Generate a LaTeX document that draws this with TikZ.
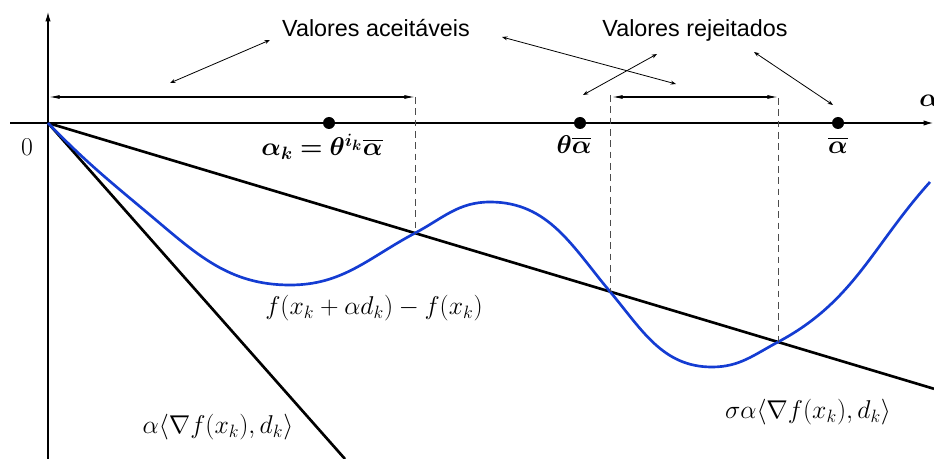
\documentclass[tikz,border=0pt]{standalone}
\usepackage{amsmath,bm}
\usepackage[no-math]{fontspec}
\newfontfamily\labelfont{Liberation Sans}
\usetikzlibrary{arrows.meta}
\definecolor{curveblue}{RGB}{20,60,210}
\begin{document}
\begin{tikzpicture}[x=0.75pt,y=-0.75pt,
  axis/.style={line width=0.8pt,-{Latex[length=7pt,width=4pt]}},
  mainline/.style={line width=2pt},
  fcurve/.style={line width=2pt,curveblue},
  guide/.style={line width=0.7pt,dash pattern=on 5pt off 3.5pt,black!70},
  span/.style={line width=0.8pt,{Latex[length=8pt,width=3pt]}-{Latex[length=8pt,width=3pt]}},
  pointer/.style={line width=0.6pt,{Stealth[length=4pt,width=3pt]}-{Stealth[length=4pt,width=3pt]}},
  dot/.style={circle,fill=black,inner sep=0pt,minimum size=9pt},
  word/.style={font=\labelfont\fontsize{17.5}{20}\selectfont,inner sep=0pt},
  mathlbl/.style={font=\fontsize{17.28}{20}\selectfont,inner sep=0pt,scale=1.117,transform shape}]
\useasboundingbox (0,0) rectangle (934,459);
% axes
\coordinate (O) at (48,123);
\coordinate (yb) at (48,459);
\coordinate (yt) at (48,12);
\coordinate (xl) at (10,123);
\coordinate (xr) at (933,123);
\draw[axis] (yb) -- (yt);
\draw[axis] (xl) -- (xr);
\node[mathlbl,anchor=west] (axlbl) at (919,101) {$\bm{\alpha}$};
\node[mathlbl] (zero) at (27,147) {$0$};
% straight lines
\coordinate (steepEnd) at (345,459);
\coordinate (sigEnd) at (934,388.8);
\draw[mainline] (O) -- (steepEnd);
\draw[mainline] (O) -- (sigEnd);
% intersections and extrema
\coordinate (P1) at (415,233.1);
\coordinate (P2) at (610,291.6);
\coordinate (P3) at (778,342);
\coordinate (q1) at (150,215);
\coordinate (m1) at (290,285);
\coordinate (M1) at (490,202);
\coordinate (m2) at (712,367);
\coordinate (E) at (930,182);
% curve
\draw[fcurve] (O) to[out=-46,in=140] (q1) to[out=-40,in=180] (m1)
  to[out=0,in=-152] (P1)
  to[out=28,in=180] (M1) to[out=0,in=130] (P2)
  to[out=-50,in=180] (m2) to[out=0,in=-152] (P3)
  to[out=28,in=-132] (E);
% dashed guides
\coordinate (T1) at (415,97);
\coordinate (T2) at (610,95);
\coordinate (T3) at (778,98);
\draw[guide] (T1) -- (P1);
\draw[guide] (T2) -- (P2);
\draw[guide] (T3) -- (P3);
% spans
\coordinate (S1) at (49,97);
\coordinate (S2) at (612,97);
\coordinate (S3) at (778,97);
\draw[span] (S1) -- (T1);
\draw[span] (S2) -- (S3);
% dots and labels
\node[dot] (ak) at (329,123) {};
\node[dot] (tb) at (580,123) {};
\node[dot] (ab) at (838,123) {};
\node[mathlbl] (aklbl) at (322,147) {$\bm{\alpha_k=\theta^{i_k}\overline{\alpha}}$};
\node[mathlbl] (tblbl) at (574,145) {$\bm{\theta\overline{\alpha}}$};
\node[mathlbl] (ablbl) at (838,145) {$\bm{\overline{\alpha}}$};
\node[mathlbl] (flbl) at (374,308) {$f(x_k+\alpha d_k)-f(x_k)$};
\node[mathlbl] (glbl) at (218,427) {$\alpha\langle\nabla f(x_k),d_k\rangle$};
\node[mathlbl] (slbl) at (808,412) {$\sigma\alpha\langle\nabla f(x_k),d_k\rangle$};
% word labels
\node[word,anchor=base] (acc) at (376,37) {Valores aceitáveis};
\node[word,anchor=base] (rej) at (695,37) {Valores rejeitados};
% pointers
\coordinate (a1) at (170,83); \coordinate (a2) at (270,40);
\coordinate (a3) at (502,37); \coordinate (a4) at (676,84);
\coordinate (r1) at (583,95); \coordinate (r2) at (657,54);
\coordinate (r3) at (754,52); \coordinate (r4) at (833,105);
\draw[pointer] (a1) -- (a2);
\draw[pointer] (a3) -- (a4);
\draw[pointer] (r1) -- (r2);
\draw[pointer] (r3) -- (r4);
\end{tikzpicture}
\end{document}
